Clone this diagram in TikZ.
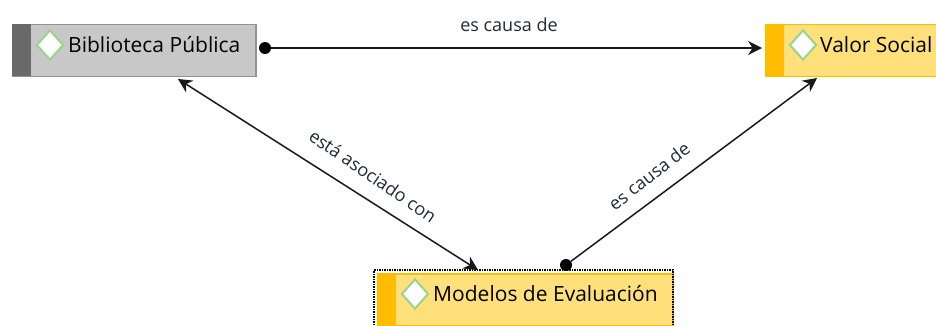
\documentclass[tikz,border=0pt]{standalone}
\usepackage{fontspec}
\setmainfont{Open Sans}
\usetikzlibrary{positioning}
\usetikzlibrary{shapes.geometric}
\usetikzlibrary{arrows.meta}
\definecolor{greybox}{HTML}{C8C8C8}
\definecolor{greyband}{HTML}{696969}
\definecolor{yellowbox}{HTML}{FFE07A}
\definecolor{yellowband}{HTML}{FFBC00}
\definecolor{diamondgreen}{HTML}{9AD48A}
\definecolor{labeltext}{HTML}{1F2A38}
\tikzset{
	conceptbox/.style={rectangle, inner sep=0pt, minimum height=52pt, anchor=north west, line width=1.5pt},
	greyconcept/.style={conceptbox, fill=greybox, draw=gray!85},
	yellowconcept/.style={conceptbox, fill=yellowbox, draw=yellowband},
	greyside/.style={rectangle, inner sep=0pt, minimum width=19pt, minimum height=52pt, fill=greyband},
	yellowside/.style={rectangle, inner sep=0pt, minimum width=19pt, minimum height=52pt, fill=yellowband},
	marker/.style={diamond, inner sep=0pt, minimum width=27pt, minimum height=30pt, fill=white, draw=diamondgreen, line width=2pt},
	conceptname/.style={inner sep=0pt, font=\fontsize{21}{25}\selectfont, text=black},
	linklabel/.style={inner sep=0pt, font=\fontsize{18}{21}\selectfont, text=labeltext},
	link/.style={line width=1.5pt, black!90},
	linkdot/.style={circle, inner sep=0pt, minimum size=12pt, fill=black},
	tip/.style={-{Stealth[length=14pt,width=14pt]}},
	bothtips/.style={{Stealth[length=14pt,width=14pt]}-{Stealth[length=14pt,width=14pt]}}
}
\begin{document}
\begin{tikzpicture}[x=1pt,y=-1pt]
	\useasboundingbox (0,0) rectangle (936,325);
	
	\node [greyconcept, minimum width=243pt] at (12,23.5) (biblioteca) {};
	\node [yellowconcept, minimum width=180pt] at (765,23.5) (valor) {};
	\node [yellowconcept, minimum width=295pt] at (377,273) (modelos) {};
	\draw [densely dotted, line width=1.5pt] (374,325) |- (673,270) -- (673,325);
	
	\node [greyside, right=0pt of biblioteca.west] (bibliotecaside) {};
	\node [yellowside, right=0pt of valor.west] (valorside) {};
	\node [yellowside, right=0pt of modelos.west] (modelosside) {};
	
	\node [marker] at (50,45) (bibliotecamark) {}; \node [conceptname, anchor=west] at (68,45) (bibliotecaname) {Biblioteca Pública};
	\node [marker] at (803,45) (valormark) {}; \node [conceptname, anchor=west] at (820,45) (valorname) {Valor Social};
	\node [marker] at (415,294) (modelosmark) {}; \node [conceptname, anchor=west] at (433,294) (modelosname) {Modelos de Evaluación};
	
	\node [linkdot] at (265,48) (causastart) {}; \coordinate (causaend) at (762,48);
	\coordinate (asociadostart) at (178,79); \coordinate (asociadoend) at (478,270);
	\node [linkdot] at (566,265) (valorstart) {}; \coordinate (valorend) at (817,78);
	
	\draw [link, tip] (causastart) -- (causaend);
	\draw [link, bothtips] (asociadostart) -- (asociadoend);
	\draw [link, tip] (valorstart) -- (valorend);
	
	\node [linklabel] at (509,25) (causalabel) {es causa de};
	\node [linklabel, rotate=-34.5] at (373,176) (asociadolabel) {está asociado con};
	\node [linklabel, rotate=38] at (649,176) (valorlabel) {es causa de};
	
\end{tikzpicture}
\end{document}
